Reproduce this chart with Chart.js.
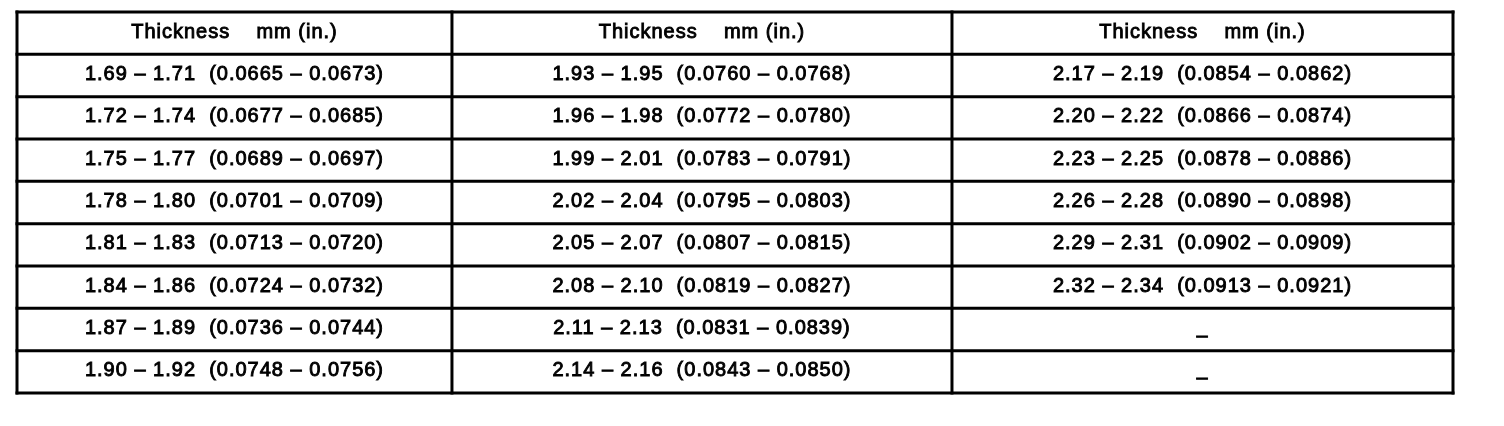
<!DOCTYPE html>
<html>
<head>
<meta charset="utf-8">
<script src="https://cdn.jsdelivr.net/npm/chart.js@4.4.1/dist/chart.umd.min.js"></script>
<style>
  html, body { margin: 0; padding: 0; background: #fff; }
  #wrap { width: 1504px; height: 426px; position: relative; }
</style>
</head>
<body>
<div id="wrap"><canvas id="tableChart"></canvas></div>
<script>
// header of each column
const headerLabel = 'Thickness    mm (in.)';

// thickness ranges, mm and inch, per column (top to bottom)
const col1Mm = ['1.69 – 1.71', '1.72 – 1.74', '1.75 – 1.77', '1.78 – 1.80', '1.81 – 1.83', '1.84 – 1.86', '1.87 – 1.89', '1.90 – 1.92'];
const col1In = ['0.0665 – 0.0673', '0.0677 – 0.0685', '0.0689 – 0.0697', '0.0701 – 0.0709', '0.0713 – 0.0720', '0.0724 – 0.0732', '0.0736 – 0.0744', '0.0748 – 0.0756'];
const col2Mm = ['1.93 – 1.95', '1.96 – 1.98', '1.99 – 2.01', '2.02 – 2.04', '2.05 – 2.07', '2.08 – 2.10', '2.11 – 2.13', '2.14 – 2.16'];
const col2In = ['0.0760 – 0.0768', '0.0772 – 0.0780', '0.0783 – 0.0791', '0.0795 – 0.0803', '0.0807 – 0.0815', '0.0819 – 0.0827', '0.0831 – 0.0839', '0.0843 – 0.0850'];
const col3Mm = ['2.17 – 2.19', '2.20 – 2.22', '2.23 – 2.25', '2.26 – 2.28', '2.29 – 2.31', '2.32 – 2.34', null, null];
const col3In = ['0.0854 – 0.0862', '0.0866 – 0.0874', '0.0878 – 0.0886', '0.0890 – 0.0898', '0.0902 – 0.0909', '0.0913 – 0.0921', null, null];

// layout: column edges as fraction of table width
const colEdges = [0, 0.3029, 0.6511, 1];
const rowCount = col1Mm.length + 1; // header + body rows

function cellText(mm, inch) {
    if (mm == null) return '–';
    return mm + '  (' + inch + ')';
}

// one dataset per column, one (invisible) point per cell
const columns = [[col1Mm, col1In], [col2Mm, col2In], [col3Mm, col3In]];
const datasets = columns.map(function (col, c) {
    const cx = (colEdges[c] + colEdges[c + 1]) / 2;
    const texts = [headerLabel].concat(col[0].map(function (mm, i) { return cellText(mm, col[1][i]); }));
    return {
        label: 'col' + (c + 1),
        data: texts.map(function (t, r) { return { x: cx, y: r + 0.5, text: t }; }),
        pointRadius: 0,
        pointHoverRadius: 0,
        showLine: false
    };
});

// draws the grid and the cell texts
const tablePlugin = {
    id: 'tablePlugin',
    afterDatasetsDraw(chart) {
        const ctx = chart.ctx;
        const xs = chart.scales.x;
        const ys = chart.scales.y;
        ctx.save();

        // cell texts
        ctx.fillStyle = '#000';
        ctx.strokeStyle = '#000';
        ctx.lineWidth = 0.9;
        ctx.font = '20px "Liberation Sans", Arial, sans-serif';
        ctx.letterSpacing = '1px';
        ctx.textAlign = 'center';
        ctx.textBaseline = 'middle';
        chart.data.datasets.forEach(function (ds, d) {
            const meta = chart.getDatasetMeta(d);
            meta.data.forEach(function (pt, i) {
                const t = ds.data[i].text;
                let yy = pt.y - 1;
                if (t === '–') yy += 8;
                ctx.fillText(t, pt.x, yy);
                ctx.strokeText(t, pt.x, yy);
            });
        });

        // grid lines
        ctx.lineWidth = 3;
        ctx.lineCap = 'square';
        const top = ys.getPixelForValue(0);
        const bottom = ys.getPixelForValue(rowCount);
        const left = xs.getPixelForValue(0);
        const right = xs.getPixelForValue(1);
        colEdges.forEach(function (e) {
            const px = xs.getPixelForValue(e);
            ctx.beginPath();
            ctx.moveTo(px, top);
            ctx.lineTo(px, bottom);
            ctx.stroke();
        });
        for (let r = 0; r <= rowCount; r++) {
            const py = ys.getPixelForValue(r);
            ctx.beginPath();
            ctx.moveTo(left, py);
            ctx.lineTo(right, py);
            ctx.stroke();
        }
        ctx.restore();
    }
};

new Chart(document.getElementById('tableChart'), {
    type: 'scatter',
    data: { datasets: datasets },
    options: {
        responsive: true,
        maintainAspectRatio: false,
        animation: false,
        devicePixelRatio: 1,
        layout: { padding: { left: 17, right: 51, top: 12, bottom: 33 } },
        plugins: { legend: { display: false }, tooltip: { enabled: false } },
        events: [],
        scales: {
            x: { type: 'linear', min: 0, max: 1, display: false },
            y: { type: 'linear', min: 0, max: rowCount, reverse: true, display: false }
        }
    },
    plugins: [tablePlugin]
});
</script>
</body>
</html>
